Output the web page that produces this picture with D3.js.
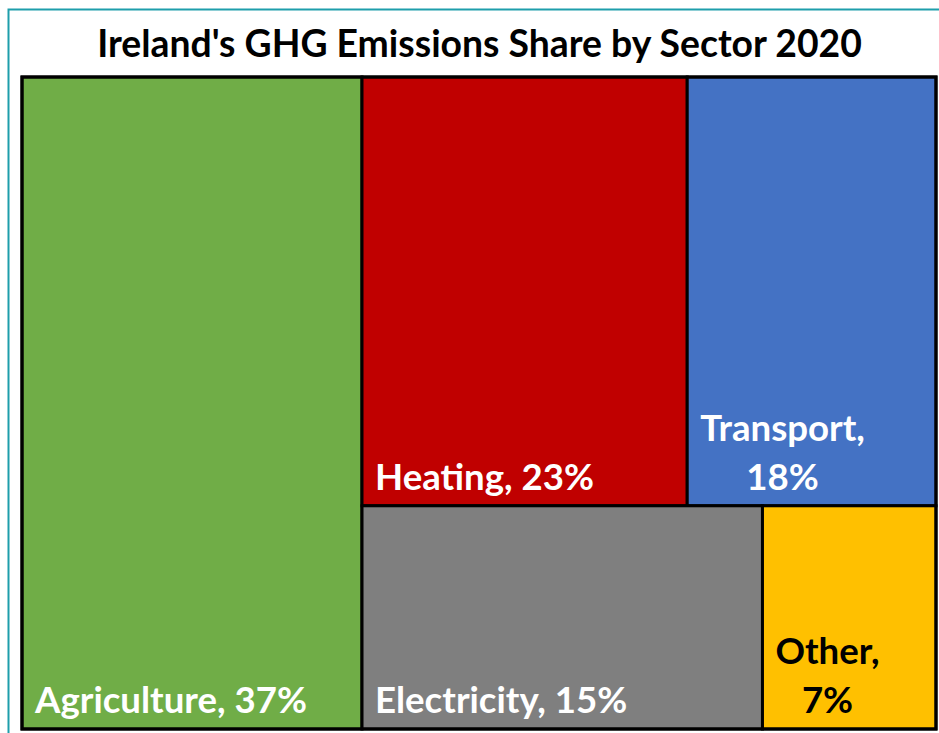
<!DOCTYPE html>
<html><head><meta charset="utf-8">
<script src="https://cdn.jsdelivr.net/npm/d3@7"></script>
<style>body{margin:0;background:#fff;overflow:hidden}</style>
</head><body>
<svg id="c" width="939" height="733"></svg>
<script>
const title = "Ireland's GHG Emissions Share by Sector 2020";
const sectors = ["Agriculture", "Heating", "Transport", "Electricity", "Other"];
const shares = [37.2, 23.4, 17.9, 15.0, 6.5];
const groupOf = [0, 1, 1, 2, 2]; // Excel treemap arrangement: column, top row, bottom row
const fills = ["#70AD47", "#C00000", "#4472C4", "#7F7F7F", "#FFC000"];
const textFill = ["#fff", "#fff", "#fff", "#fff", "#000"];

const FONT = "Lato, 'Open Sans', sans-serif";
const svg = d3.select("#c");
const W = 939, H = 733;

// outer teal frame
svg.append("rect").attr("x", 8.5).attr("y", 9.5).attr("width", W).attr("height", H)
  .attr("fill", "none").attr("stroke", "#1E9EAB").attr("stroke-width", 2);

function measure(txt, size) {
  const t = svg.append("text").attr("font-family", FONT).attr("font-weight", 700)
    .attr("font-size", size).text(txt);
  const w = t.node().getComputedTextLength();
  t.remove();
  return w;
}

// title
const titleSize = 100 * 765 / measure(title, 100);
svg.append("text").attr("x", 479.5).attr("y", 57).attr("text-anchor", "middle")
  .attr("font-family", FONT).attr("font-weight", 700).attr("font-size", titleSize)
  .attr("fill", "#000").text(title);

// hierarchy
const leaves = sectors.map((s, i) => ({name: s, value: shares[i], i}));
const rootData = {name: "root", children: [
  leaves[0],
  {name: "rest", children: [
    {name: "row1", children: leaves.filter(d => groupOf[d.i] === 1)},
    {name: "row2", children: leaves.filter(d => groupOf[d.i] === 2)}
  ]}
]};
const root = d3.hierarchy(rootData).sum(d => d.children ? 0 : d.value);
d3.treemap().tile(d3.treemapSliceDice).size([914, 652]).padding(0)(root);

const g = svg.append("g").attr("transform", "translate(22,77)");
const cells = g.selectAll("g.cell").data(root.leaves()).join("g").attr("class", "cell");
cells.append("rect")
  .attr("x", d => d.x0).attr("y", d => d.y0)
  .attr("width", d => d.x1 - d.x0).attr("height", d => d.y1 - d.y0)
  .attr("fill", d => fills[d.data.i]).attr("stroke", "#000").attr("stroke-width", 3);
g.append("rect").attr("x", 0).attr("y", 0).attr("width", 914).attr("height", 652)
  .attr("fill", "none").attr("stroke", "#000").attr("stroke-width", 3);

const labelSize = 100 * 272 / measure("Agriculture, 37%", 100);
const lineH = 49;
cells.each(function(d) {
  const label = d.data.name + ", " + Math.round(d.data.value) + "%";
  const avail = d.x1 - d.x0 - 24;
  let lines = [label];
  if (measure(label, labelSize) > avail) lines = [d.data.name + ",", Math.round(d.data.value) + "%"];
  const widths = lines.map(l => measure(l, labelSize));
  const maxW = d3.max(widths);
  const left = d.x0 + 13;
  const baseY = d.y1 - 16;
  lines.forEach((l, k) => {
    d3.select(this).append("text")
      .attr("x", left + maxW / 2)
      .attr("y", baseY - (lines.length - 1 - k) * lineH)
      .attr("text-anchor", "middle")
      .attr("font-family", FONT).attr("font-weight", 700).attr("font-size", labelSize)
      .attr("fill", textFill[d.data.i]).text(l);
  });
});
</script>
</body></html>
